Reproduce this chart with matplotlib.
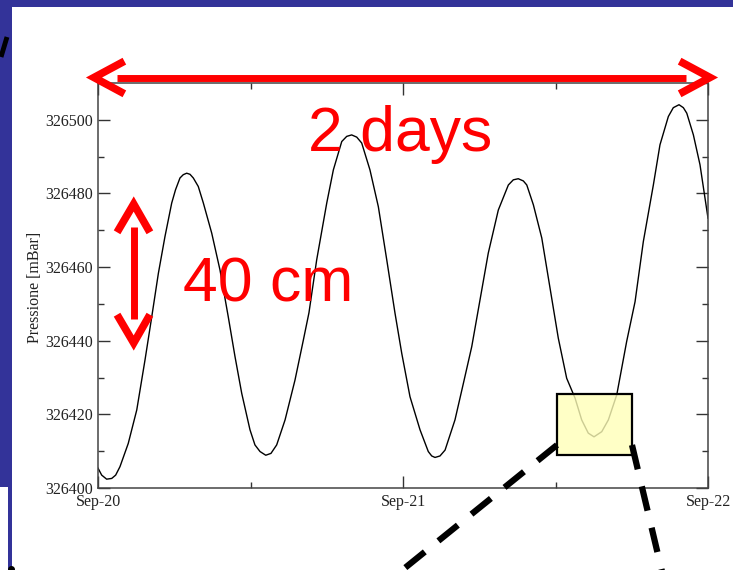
import matplotlib
matplotlib.use('Agg')
import matplotlib.pyplot as plt
from matplotlib.patches import Rectangle
from matplotlib.ticker import MultipleLocator, FormatStrFormatter

plt.rcParams['font.family'] = ['Liberation Serif', 'DejaVu Serif']

# pressure record (hours after Sep-20 00:00, mBar)
hours = [0.0, 0.29, 0.68, 1.08, 1.39, 1.73, 2.38, 3.05, 3.70, 4.23,
         4.75, 5.27, 5.80, 6.10, 6.45, 6.71, 6.98, 7.24, 7.50, 7.89,
         8.29, 8.95, 9.60, 10.25, 10.78, 11.31, 11.96, 12.35, 12.75, 13.20,
         13.61, 14.06, 14.72, 15.50, 16.16, 16.60, 17.21, 18.00, 18.52, 19.18,
         19.57, 19.96, 20.36, 20.75, 21.40, 22.06, 22.72, 23.37, 23.90, 24.55,
         25.34, 25.99, 26.26, 26.52, 26.91, 27.31, 28.09, 28.75, 29.41, 30.06,
         30.71, 31.50, 32.29, 32.68, 33.07, 33.47, 33.74, 34.26, 34.92, 35.57,
         36.22, 36.88, 37.54, 38.06, 38.58, 39.03, 39.64, 40.16, 40.82, 41.60,
         42.26, 42.91, 43.70, 44.22, 44.88, 45.27, 45.72, 46.06, 46.33, 46.85,
         47.37, 48.0]
pressure = [326405.4, 326403.5, 326402.4, 326402.6, 326403.5, 326405.8, 326412.1, 326421.2, 326434.8, 326446.5,
            326458.3, 326468.3, 326477.4, 326481.0, 326484.2, 326485.1, 326485.5, 326485.2, 326484.2, 326481.9,
            326477.4, 326469.2, 326459.2, 326446.5, 326435.7, 326425.7, 326415.8, 326411.7, 326409.9, 326408.9,
            326409.4, 326411.7, 326418.5, 326429.3, 326440.2, 326447.6, 326462.0, 326477.4, 326486.4, 326494.1,
            326495.5, 326495.9, 326495.3, 326493.7, 326486.4, 326476.4, 326462.0, 326447.5, 326436.6, 326424.8,
            326415.8, 326409.9, 326408.7, 326408.3, 326408.7, 326410.3, 326418.5, 326428.4, 326438.4, 326451.1,
            326463.8, 326475.5, 326482.3, 326483.7, 326484.0, 326483.4, 326482.3, 326476.9, 326467.9, 326454.3,
            326440.7, 326429.8, 326424.4, 326418.5, 326414.9, 326413.9, 326415.3, 326418.5, 326425.3, 326439.8,
            326450.6, 326466.9, 326482.3, 326493.2, 326500.9, 326503.3, 326504.1, 326503.3, 326501.8, 326495.9,
            326487.8, 326473.3]

day_ticks = [0, 24, 48]
day_labels = ['Sep-20', 'Sep-21', 'Sep-22']
half_day_ticks = [12, 36]

W, H = 733, 570
fig = plt.figure(figsize=(W / 100, H / 100), dpi=100)
fig.patch.set_facecolor('white')

# the xmgrace style plot
ax = fig.add_axes([98 / W, 1 - 488 / H, 610 / W, 405 / H])
ax.plot(hours, pressure, color='black', lw=1.0)
ax.set_xlim(0, 48)
ax.set_ylim(326400, 326510)
ax.set_xticks(day_ticks)
ax.set_xticklabels(day_labels)
ax.set_xticks(half_day_ticks, minor=True)
ax.yaxis.set_major_locator(MultipleLocator(20))
ax.yaxis.set_minor_locator(MultipleLocator(10))
ax.yaxis.set_major_formatter(FormatStrFormatter('%d'))

ax.tick_params(which='both', direction='in', top=True, right=True,
               color='#333333', labelsize=11.5, labelcolor='#222222')
ax.tick_params(which='major', length=8.4, width=1)
ax.tick_params(which='minor', length=4.5, width=1)
ax.tick_params(axis='y', pad=3.6)
ax.tick_params(axis='x', pad=4)
for s in ax.spines.values():
    s.set_color('#444444')
    s.set_linewidth(1.1)

ax.set_ylabel('Pressione [mBar]', fontsize=11.5, color='#222222')
ax.yaxis.set_label_coords(-0.09, 0.496)

# slide overlay, in slide pixels
ov = fig.add_axes([0, 0, 1, 1], zorder=5)
ov.set_xlim(0, W)
ov.set_ylim(H, 0)
ov.axis('off')

blue = '#333399'
ov.add_patch(Rectangle((0, 0), W, 7, color=blue, lw=0))
ov.add_patch(Rectangle((0, 0), 12, 487, color=blue, lw=0))
ov.add_patch(Rectangle((8, 487), 4, 90, color=blue, lw=0))
ov.plot([1, 7], [57, 37], color='black', lw=3.5, solid_capstyle='butt')
ov.plot([11], [569], 'o', color='black', ms=4)

red = '#ff0000'
# 2 days arrow
ov.plot([117, 686], [77.5, 77.5], color=red, lw=5, solid_capstyle='butt')
ov.plot([121, 94, 121], [63, 77.5, 92], color=red, lw=5.5, solid_joinstyle='miter')
ov.plot([683, 710, 683], [63, 77.5, 92], color=red, lw=5.5, solid_joinstyle='miter')
# 40 cm arrow
ov.plot([133.7, 133.7], [227, 319], color=red, lw=5, solid_capstyle='butt')
ov.plot([119, 133.7, 148], [229, 204, 229], color=red, lw=5.5, solid_joinstyle='miter')
ov.plot([119, 133.7, 148], [318, 343, 318], color=red, lw=5.5, solid_joinstyle='miter')

ov.text(308, 151, '2 days', color=red, fontsize=45, family='Liberation Sans',
        ha='left', va='baseline')
ov.text(183, 302, '40 cm', color=red, fontsize=45, family='Liberation Sans',
        ha='left', va='baseline')

# zoom box with dashed leaders
ov.plot([557, 390], [445, 580], color='black', lw=4.5, ls=(0, (4, 2.8)),
        dash_capstyle='butt')
ov.plot([632, 664], [445, 580], color='black', lw=4.5, ls=(0, (4, 2.8)),
        dash_capstyle='butt')
ov.add_patch(Rectangle((557, 394), 75, 61, facecolor=(1, 1, 0.72, 0.8),
                       edgecolor='black', lw=1.6))

fig.savefig('out.png', dpi=100)
